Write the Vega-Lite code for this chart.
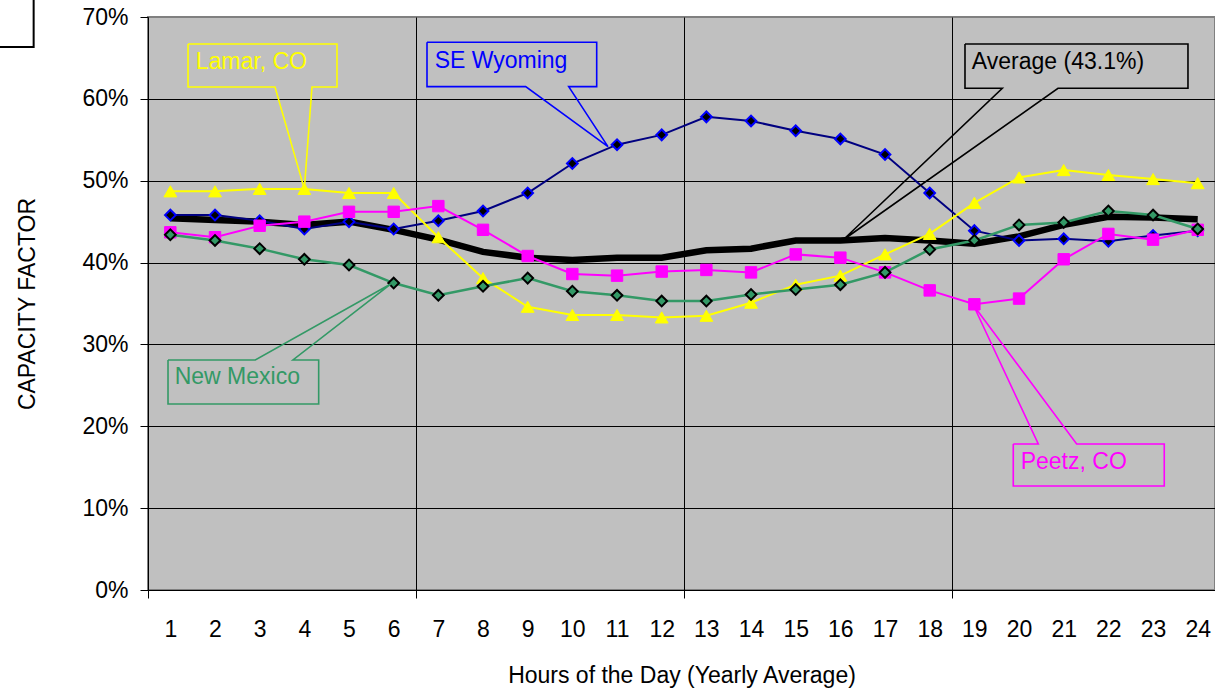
{
  "$schema": "https://vega.github.io/schema/vega-lite/v6.json",
  "width": 1067,
  "height": 573,
  "autosize": {"type": "none"},
  "padding": {"left": 148, "top": 17, "right": 0, "bottom": 98},
  "background": "white",
  "config": {
    "font": "Liberation Sans",
    "view": {"fill": "#C0C0C0", "stroke": "#808080", "strokeWidth": 2}
  },
  "datasets": {
    "main": [
      {"s": "Lamar, CO", "h": 1, "v": 48.7}, {"s": "Lamar, CO", "h": 2, "v": 48.7}, {"s": "Lamar, CO", "h": 3, "v": 49.0}, {"s": "Lamar, CO", "h": 4, "v": 49.0}, {"s": "Lamar, CO", "h": 5, "v": 48.5}, {"s": "Lamar, CO", "h": 6, "v": 48.5}, {"s": "Lamar, CO", "h": 7, "v": 43.1}, {"s": "Lamar, CO", "h": 8, "v": 38.1}, {"s": "Lamar, CO", "h": 9, "v": 34.6}, {"s": "Lamar, CO", "h": 10, "v": 33.6}, {"s": "Lamar, CO", "h": 11, "v": 33.6}, {"s": "Lamar, CO", "h": 12, "v": 33.3}, {"s": "Lamar, CO", "h": 13, "v": 33.5}, {"s": "Lamar, CO", "h": 14, "v": 35.1}, {"s": "Lamar, CO", "h": 15, "v": 37.3}, {"s": "Lamar, CO", "h": 16, "v": 38.4}, {"s": "Lamar, CO", "h": 17, "v": 41.0}, {"s": "Lamar, CO", "h": 18, "v": 43.5}, {"s": "Lamar, CO", "h": 19, "v": 47.3}, {"s": "Lamar, CO", "h": 20, "v": 50.4}, {"s": "Lamar, CO", "h": 21, "v": 51.3}, {"s": "Lamar, CO", "h": 22, "v": 50.7}, {"s": "Lamar, CO", "h": 23, "v": 50.2}, {"s": "Lamar, CO", "h": 24, "v": 49.7},
      {"s": "SE Wyoming", "h": 1, "v": 45.8}, {"s": "SE Wyoming", "h": 2, "v": 45.8}, {"s": "SE Wyoming", "h": 3, "v": 45.1}, {"s": "SE Wyoming", "h": 4, "v": 44.1}, {"s": "SE Wyoming", "h": 5, "v": 45.0}, {"s": "SE Wyoming", "h": 6, "v": 44.1}, {"s": "SE Wyoming", "h": 7, "v": 45.1}, {"s": "SE Wyoming", "h": 8, "v": 46.3}, {"s": "SE Wyoming", "h": 9, "v": 48.5}, {"s": "SE Wyoming", "h": 10, "v": 52.1}, {"s": "SE Wyoming", "h": 11, "v": 54.4}, {"s": "SE Wyoming", "h": 12, "v": 55.6}, {"s": "SE Wyoming", "h": 13, "v": 57.8}, {"s": "SE Wyoming", "h": 14, "v": 57.3}, {"s": "SE Wyoming", "h": 15, "v": 56.1}, {"s": "SE Wyoming", "h": 16, "v": 55.1}, {"s": "SE Wyoming", "h": 17, "v": 53.2}, {"s": "SE Wyoming", "h": 18, "v": 48.5}, {"s": "SE Wyoming", "h": 19, "v": 43.9}, {"s": "SE Wyoming", "h": 20, "v": 42.7}, {"s": "SE Wyoming", "h": 21, "v": 42.9}, {"s": "SE Wyoming", "h": 22, "v": 42.6}, {"s": "SE Wyoming", "h": 23, "v": 43.3}, {"s": "SE Wyoming", "h": 24, "v": 43.9},
      {"s": "Peetz, CO", "h": 1, "v": 43.7}, {"s": "Peetz, CO", "h": 2, "v": 43.1}, {"s": "Peetz, CO", "h": 3, "v": 44.5}, {"s": "Peetz, CO", "h": 4, "v": 45.0}, {"s": "Peetz, CO", "h": 5, "v": 46.2}, {"s": "Peetz, CO", "h": 6, "v": 46.2}, {"s": "Peetz, CO", "h": 7, "v": 46.9}, {"s": "Peetz, CO", "h": 8, "v": 44.0}, {"s": "Peetz, CO", "h": 9, "v": 40.8}, {"s": "Peetz, CO", "h": 10, "v": 38.6}, {"s": "Peetz, CO", "h": 11, "v": 38.4}, {"s": "Peetz, CO", "h": 12, "v": 38.9}, {"s": "Peetz, CO", "h": 13, "v": 39.1}, {"s": "Peetz, CO", "h": 14, "v": 38.8}, {"s": "Peetz, CO", "h": 15, "v": 41.0}, {"s": "Peetz, CO", "h": 16, "v": 40.6}, {"s": "Peetz, CO", "h": 17, "v": 38.8}, {"s": "Peetz, CO", "h": 18, "v": 36.6}, {"s": "Peetz, CO", "h": 19, "v": 34.9}, {"s": "Peetz, CO", "h": 20, "v": 35.6}, {"s": "Peetz, CO", "h": 21, "v": 40.4}, {"s": "Peetz, CO", "h": 22, "v": 43.5}, {"s": "Peetz, CO", "h": 23, "v": 42.8}, {"s": "Peetz, CO", "h": 24, "v": 44.0},
      {"s": "New Mexico", "h": 1, "v": 43.4}, {"s": "New Mexico", "h": 2, "v": 42.7}, {"s": "New Mexico", "h": 3, "v": 41.7}, {"s": "New Mexico", "h": 4, "v": 40.4}, {"s": "New Mexico", "h": 5, "v": 39.7}, {"s": "New Mexico", "h": 6, "v": 37.5}, {"s": "New Mexico", "h": 7, "v": 36.0}, {"s": "New Mexico", "h": 8, "v": 37.1}, {"s": "New Mexico", "h": 9, "v": 38.1}, {"s": "New Mexico", "h": 10, "v": 36.5}, {"s": "New Mexico", "h": 11, "v": 36.0}, {"s": "New Mexico", "h": 12, "v": 35.3}, {"s": "New Mexico", "h": 13, "v": 35.3}, {"s": "New Mexico", "h": 14, "v": 36.1}, {"s": "New Mexico", "h": 15, "v": 36.7}, {"s": "New Mexico", "h": 16, "v": 37.3}, {"s": "New Mexico", "h": 17, "v": 38.8}, {"s": "New Mexico", "h": 18, "v": 41.6}, {"s": "New Mexico", "h": 19, "v": 42.7}, {"s": "New Mexico", "h": 20, "v": 44.6}, {"s": "New Mexico", "h": 21, "v": 44.9}, {"s": "New Mexico", "h": 22, "v": 46.3}, {"s": "New Mexico", "h": 23, "v": 45.8}, {"s": "New Mexico", "h": 24, "v": 44.1},
      {"s": "Average", "h": 1, "v": 45.4}, {"s": "Average", "h": 2, "v": 45.2}, {"s": "Average", "h": 3, "v": 45.0}, {"s": "Average", "h": 4, "v": 44.6}, {"s": "Average", "h": 5, "v": 45.0}, {"s": "Average", "h": 6, "v": 44.0}, {"s": "Average", "h": 7, "v": 42.8}, {"s": "Average", "h": 8, "v": 41.3}, {"s": "Average", "h": 9, "v": 40.6}, {"s": "Average", "h": 10, "v": 40.3}, {"s": "Average", "h": 11, "v": 40.6}, {"s": "Average", "h": 12, "v": 40.6}, {"s": "Average", "h": 13, "v": 41.5}, {"s": "Average", "h": 14, "v": 41.7}, {"s": "Average", "h": 15, "v": 42.7}, {"s": "Average", "h": 16, "v": 42.7}, {"s": "Average", "h": 17, "v": 43.0}, {"s": "Average", "h": 18, "v": 42.7}, {"s": "Average", "h": 19, "v": 42.3}, {"s": "Average", "h": 20, "v": 43.2}, {"s": "Average", "h": 21, "v": 44.6}, {"s": "Average", "h": 22, "v": 45.6}, {"s": "Average", "h": 23, "v": 45.5}, {"s": "Average", "h": 24, "v": 45.3}
    ],
    "callouts": [
      {"c": "Lamar, CO", "i": 0, "h": 1.396, "v": 66.70}, {"c": "Lamar, CO", "i": 1, "h": 4.731, "v": 66.70}, {"c": "Lamar, CO", "i": 2, "h": 4.731, "v": 61.45}, {"c": "Lamar, CO", "i": 3, "h": 4.171, "v": 61.45}, {"c": "Lamar, CO", "i": 4, "h": 4.0, "v": 49.0}, {"c": "Lamar, CO", "i": 5, "h": 3.343, "v": 61.45}, {"c": "Lamar, CO", "i": 6, "h": 1.396, "v": 61.45}, {"c": "Lamar, CO", "i": 7, "h": 1.396, "v": 66.70},
      {"c": "SE Wyoming", "i": 0, "h": 6.746, "v": 66.91}, {"c": "SE Wyoming", "i": 1, "h": 10.545, "v": 66.91}, {"c": "SE Wyoming", "i": 2, "h": 10.545, "v": 61.49}, {"c": "SE Wyoming", "i": 3, "h": 9.918, "v": 61.49}, {"c": "SE Wyoming", "i": 4, "h": 10.798, "v": 54.16}, {"c": "SE Wyoming", "i": 5, "h": 8.955, "v": 61.49}, {"c": "SE Wyoming", "i": 6, "h": 6.746, "v": 61.49}, {"c": "SE Wyoming", "i": 7, "h": 6.746, "v": 66.91},
      {"c": "Average (43.1%)", "i": 0, "h": 18.79, "v": 66.70}, {"c": "Average (43.1%)", "i": 1, "h": 23.782, "v": 66.70}, {"c": "Average (43.1%)", "i": 2, "h": 23.782, "v": 61.29}, {"c": "Average (43.1%)", "i": 3, "h": 20.872, "v": 61.29}, {"c": "Average (43.1%)", "i": 4, "h": 16.059, "v": 42.76}, {"c": "Average (43.1%)", "i": 5, "h": 19.625, "v": 61.29}, {"c": "Average (43.1%)", "i": 6, "h": 18.79, "v": 61.29}, {"c": "Average (43.1%)", "i": 7, "h": 18.79, "v": 66.70},
      {"c": "New Mexico", "i": 0, "h": 0.948, "v": 28.10}, {"c": "New Mexico", "i": 1, "h": 2.902, "v": 28.10}, {"c": "New Mexico", "i": 2, "h": 5.933, "v": 37.38}, {"c": "New Mexico", "i": 3, "h": 3.746, "v": 28.10}, {"c": "New Mexico", "i": 4, "h": 4.321, "v": 28.10}, {"c": "New Mexico", "i": 5, "h": 4.321, "v": 22.72}, {"c": "New Mexico", "i": 6, "h": 0.948, "v": 22.72}, {"c": "New Mexico", "i": 7, "h": 0.948, "v": 28.10},
      {"c": "Peetz, CO", "i": 0, "h": 19.871, "v": 17.84}, {"c": "Peetz, CO", "i": 1, "h": 20.431, "v": 17.84}, {"c": "Peetz, CO", "i": 2, "h": 18.976, "v": 34.82}, {"c": "Peetz, CO", "i": 3, "h": 21.29, "v": 17.84}, {"c": "Peetz, CO", "i": 4, "h": 23.251, "v": 17.84}, {"c": "Peetz, CO", "i": 5, "h": 23.251, "v": 12.71}, {"c": "Peetz, CO", "i": 6, "h": 19.871, "v": 12.71}, {"c": "Peetz, CO", "i": 7, "h": 19.871, "v": 17.84}
    ],
    "labels": [
      {"c": "Lamar, CO", "h": 1.568, "v": 64.54},
      {"c": "SE Wyoming", "h": 6.918, "v": 64.65},
      {"c": "Average (43.1%)", "h": 18.944, "v": 64.54},
      {"c": "New Mexico", "h": 1.097, "v": 25.98},
      {"c": "Peetz, CO", "h": 20.037, "v": 15.68}
    ],
    "frame": [{"h": -3.0, "h2": -2.06, "v": 66.35, "v2": 73.0}]
  },
  "encoding": {
    "x": {
      "field": "h", "type": "quantitative",
      "scale": {"domain": [0.5, 24.387], "nice": false, "zero": false},
      "axis": {
        "title": "Hours of the Day (Yearly Average)",
        "values": [0.5, 1, 2, 3, 4, 5, 6, 6.5, 7, 8, 9, 10, 11, 12, 12.5, 13, 14, 15, 16, 17, 18, 18.5, 19, 20, 21, 22, 23, 24],
        "labelExpr": "datum.value % 1 === 0 ? datum.value : ''",
        "grid": true, "gridColor": "#000000", "gridWidth": 1,
        "gridOpacity": {"condition": {"test": "datum.value % 1 !== 0 && datum.value > 1", "value": 1}, "value": 0},
        "ticks": true, "tickSize": 8, "tickColor": "#000000", "tickWidth": 1,
        "tickOpacity": {"condition": {"test": "datum.value % 1 !== 0", "value": 1}, "value": 0},
        "domainColor": "#000000", "domainWidth": 1,
        "labelFontSize": 23, "labelColor": "#000000", "labelPadding": 20, "labelFlush": false, "labelOverlap": false,
        "titleFontSize": 23, "titleFontWeight": "normal", "titleColor": "#000000", "titlePadding": 23
      }
    },
    "y": {
      "field": "v", "type": "quantitative",
      "scale": {"domain": [0, 70], "nice": false, "zero": true},
      "axis": {
        "title": "CAPACITY FACTOR",
        "values": [0, 10, 20, 30, 40, 50, 60, 70],
        "labelExpr": "datum.value + '%'",
        "grid": true, "gridColor": "#000000", "gridWidth": 1,
        "gridOpacity": {"condition": {"test": "datum.value > 0 && datum.value < 70", "value": 1}, "value": 0},
        "ticks": true, "tickSize": 8, "tickColor": "#000000", "tickWidth": 1,
        "domainColor": "#000000", "domainWidth": 1,
        "labelFontSize": 23, "labelColor": "#000000", "labelPadding": 12,
        "titleFontSize": 23, "titleFontWeight": "normal", "titleColor": "#000000", "titlePadding": 42
      }
    }
  },
  "layer": [
    {
      "data": {"name": "frame"},
      "mark": {"type": "rect", "fill": null, "stroke": "#000000", "strokeWidth": 2},
      "encoding": {"x2": {"field": "h2"}, "y2": {"field": "v2"}}
    },
    {
      "data": {"name": "main"},
      "transform": [{"filter": "datum.s === 'Average'"}],
      "mark": {"type": "line", "color": "#000000", "strokeWidth": 6.5},
      "encoding": {}
    },
    {
      "data": {"name": "main"},
      "transform": [{"filter": "datum.s === 'SE Wyoming'"}],
      "mark": {"type": "line", "color": "#000080", "strokeWidth": 2},
      "encoding": {}
    },
    {
      "data": {"name": "main"},
      "transform": [{"filter": "datum.s === 'SE Wyoming'"}],
      "mark": {"type": "point", "shape": "diamond", "filled": true, "fill": "#000000", "stroke": "#0000FF", "strokeWidth": 2, "size": 115, "opacity": 1},
      "encoding": {}
    },
    {
      "data": {"name": "main"},
      "transform": [{"filter": "datum.s === 'Lamar, CO'"}],
      "mark": {"type": "line", "color": "#FFFF00", "strokeWidth": 2},
      "encoding": {}
    },
    {
      "data": {"name": "main"},
      "transform": [{"filter": "datum.s === 'Lamar, CO'"}],
      "mark": {"type": "point", "shape": "triangle-up", "filled": true, "fill": "#FFFF00", "stroke": "#FFFF00", "strokeWidth": 1, "size": 165, "opacity": 1},
      "encoding": {}
    },
    {
      "data": {"name": "main"},
      "transform": [{"filter": "datum.s === 'Peetz, CO'"}],
      "mark": {"type": "line", "color": "#FF00FF", "strokeWidth": 2},
      "encoding": {}
    },
    {
      "data": {"name": "main"},
      "transform": [{"filter": "datum.s === 'Peetz, CO'"}],
      "mark": {"type": "point", "shape": "square", "filled": true, "fill": "#FF00FF", "stroke": "#FF00FF", "strokeWidth": 1, "size": 130, "opacity": 1},
      "encoding": {}
    },
    {
      "data": {"name": "main"},
      "transform": [{"filter": "datum.s === 'New Mexico'"}],
      "mark": {"type": "line", "color": "#339966", "strokeWidth": 2.5},
      "encoding": {}
    },
    {
      "data": {"name": "main"},
      "transform": [{"filter": "datum.s === 'New Mexico'"}],
      "mark": {"type": "point", "shape": "diamond", "filled": true, "fill": "#339966", "stroke": "#000000", "strokeWidth": 2, "size": 115, "opacity": 1},
      "encoding": {}
    },
    {
      "data": {"name": "callouts"},
      "mark": {"type": "line", "strokeWidth": 1.6},
      "encoding": {
        "color": {"field": "c", "type": "nominal", "scale": {"domain": ["Lamar, CO", "SE Wyoming", "Average (43.1%)", "New Mexico", "Peetz, CO"], "range": ["#FFFF00", "#0000FF", "#000000", "#339966", "#FF00FF"]}, "legend": null},
        "detail": {"field": "c"},
        "order": {"field": "i", "type": "quantitative"}
      }
    },
    {
      "data": {"name": "labels"},
      "mark": {"type": "text", "align": "left", "baseline": "middle", "fontSize": 23, "font": "Liberation Sans"},
      "encoding": {
        "text": {"field": "c"},
        "color": {"field": "c", "type": "nominal", "legend": null}
      }
    }
  ]
}
